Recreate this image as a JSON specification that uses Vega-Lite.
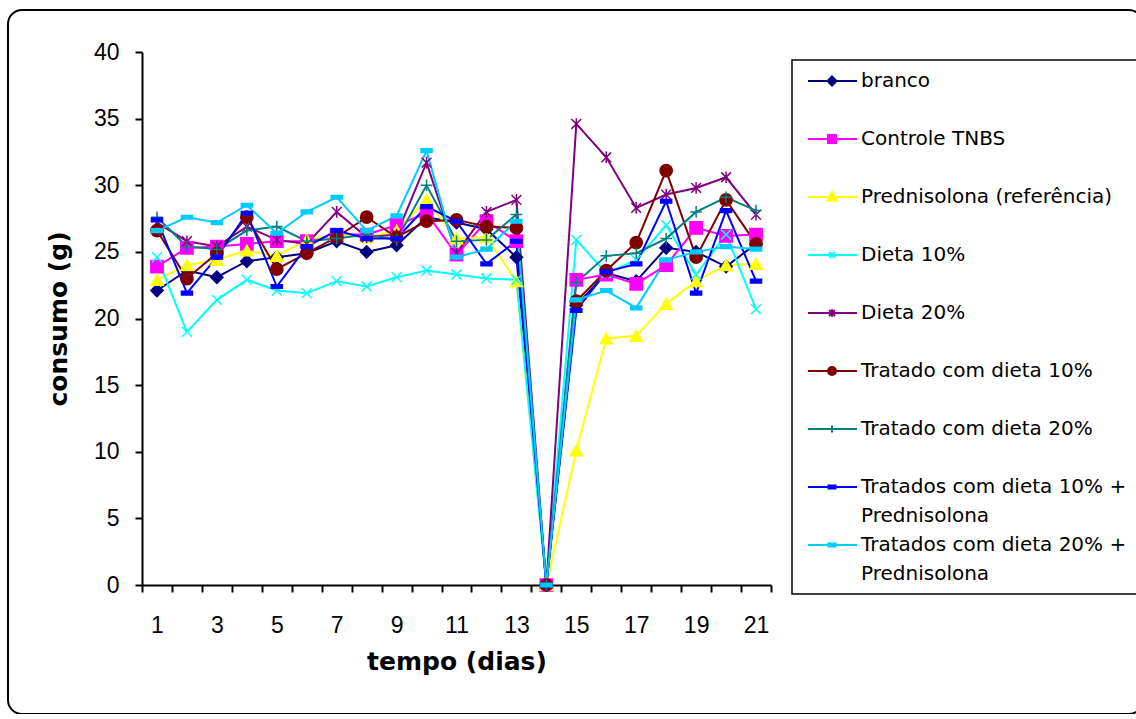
{
"$schema": "https://vega.github.io/schema/vega-lite/v6.json",
"width": 1135,
"height": 704,
"autosize": {"type": "none"},
"padding": {"left": 8, "top": 10, "right": 0, "bottom": 0},
"background": "white",
"config": {"view": {"stroke": "black", "strokeWidth": 2, "cornerRadius": 14, "fill": "white"}, "font": "Liberation Sans", "legend": {"strokeWidth": 1.5}},
"data": {"values": [
{"dia":1,"grupo":"branco","consumo":22.1},{"dia":2,"grupo":"branco","consumo":23.6},{"dia":3,"grupo":"branco","consumo":23.1},{"dia":4,"grupo":"branco","consumo":24.3},{"dia":5,"grupo":"branco","consumo":24.6},{"dia":6,"grupo":"branco","consumo":24.9},{"dia":7,"grupo":"branco","consumo":25.8},{"dia":8,"grupo":"branco","consumo":25.0},{"dia":9,"grupo":"branco","consumo":25.5},{"dia":10,"grupo":"branco","consumo":27.6},{"dia":11,"grupo":"branco","consumo":27.2},{"dia":12,"grupo":"branco","consumo":26.7},{"dia":13,"grupo":"branco","consumo":24.6},{"dia":14,"grupo":"branco","consumo":0},{"dia":15,"grupo":"branco","consumo":21.0},{"dia":16,"grupo":"branco","consumo":23.4},{"dia":17,"grupo":"branco","consumo":22.8},{"dia":18,"grupo":"branco","consumo":25.3},{"dia":19,"grupo":"branco","consumo":25.0},{"dia":20,"grupo":"branco","consumo":23.9},{"dia":21,"grupo":"branco","consumo":25.6},
{"dia":1,"grupo":"Controle TNBS","consumo":23.9},{"dia":2,"grupo":"Controle TNBS","consumo":25.3},{"dia":3,"grupo":"Controle TNBS","consumo":25.4},{"dia":4,"grupo":"Controle TNBS","consumo":25.6},{"dia":5,"grupo":"Controle TNBS","consumo":25.8},{"dia":6,"grupo":"Controle TNBS","consumo":25.8},{"dia":7,"grupo":"Controle TNBS","consumo":26.3},{"dia":8,"grupo":"Controle TNBS","consumo":26.3},{"dia":9,"grupo":"Controle TNBS","consumo":27.0},{"dia":10,"grupo":"Controle TNBS","consumo":27.9},{"dia":11,"grupo":"Controle TNBS","consumo":24.8},{"dia":12,"grupo":"Controle TNBS","consumo":27.3},{"dia":13,"grupo":"Controle TNBS","consumo":25.8},{"dia":14,"grupo":"Controle TNBS","consumo":0},{"dia":15,"grupo":"Controle TNBS","consumo":22.9},{"dia":16,"grupo":"Controle TNBS","consumo":23.3},{"dia":17,"grupo":"Controle TNBS","consumo":22.6},{"dia":18,"grupo":"Controle TNBS","consumo":24.0},{"dia":19,"grupo":"Controle TNBS","consumo":26.8},{"dia":20,"grupo":"Controle TNBS","consumo":26.2},{"dia":21,"grupo":"Controle TNBS","consumo":26.3},
{"dia":1,"grupo":"Prednisolona (referência)","consumo":22.9},{"dia":2,"grupo":"Prednisolona (referência)","consumo":24.0},{"dia":3,"grupo":"Prednisolona (referência)","consumo":24.4},{"dia":4,"grupo":"Prednisolona (referência)","consumo":25.1},{"dia":5,"grupo":"Prednisolona (referência)","consumo":24.7},{"dia":6,"grupo":"Prednisolona (referência)","consumo":25.9},{"dia":7,"grupo":"Prednisolona (referência)","consumo":26.3},{"dia":8,"grupo":"Prednisolona (referência)","consumo":26.1},{"dia":9,"grupo":"Prednisolona (referência)","consumo":26.6},{"dia":10,"grupo":"Prednisolona (referência)","consumo":28.9},{"dia":11,"grupo":"Prednisolona (referência)","consumo":26.0},{"dia":12,"grupo":"Prednisolona (referência)","consumo":26.1},{"dia":13,"grupo":"Prednisolona (referência)","consumo":22.8},{"dia":14,"grupo":"Prednisolona (referência)","consumo":0},{"dia":15,"grupo":"Prednisolona (referência)","consumo":10.1},{"dia":16,"grupo":"Prednisolona (referência)","consumo":18.5},{"dia":17,"grupo":"Prednisolona (referência)","consumo":18.7},{"dia":18,"grupo":"Prednisolona (referência)","consumo":21.1},{"dia":19,"grupo":"Prednisolona (referência)","consumo":22.8},{"dia":20,"grupo":"Prednisolona (referência)","consumo":24.0},{"dia":21,"grupo":"Prednisolona (referência)","consumo":24.1},
{"dia":1,"grupo":"Dieta 10%","consumo":24.6},{"dia":2,"grupo":"Dieta 10%","consumo":19.0},{"dia":3,"grupo":"Dieta 10%","consumo":21.4},{"dia":4,"grupo":"Dieta 10%","consumo":22.9},{"dia":5,"grupo":"Dieta 10%","consumo":22.1},{"dia":6,"grupo":"Dieta 10%","consumo":21.9},{"dia":7,"grupo":"Dieta 10%","consumo":22.8},{"dia":8,"grupo":"Dieta 10%","consumo":22.4},{"dia":9,"grupo":"Dieta 10%","consumo":23.1},{"dia":10,"grupo":"Dieta 10%","consumo":23.6},{"dia":11,"grupo":"Dieta 10%","consumo":23.3},{"dia":12,"grupo":"Dieta 10%","consumo":23.0},{"dia":13,"grupo":"Dieta 10%","consumo":22.9},{"dia":14,"grupo":"Dieta 10%","consumo":0},{"dia":15,"grupo":"Dieta 10%","consumo":25.9},{"dia":16,"grupo":"Dieta 10%","consumo":23.4},{"dia":17,"grupo":"Dieta 10%","consumo":24.4},{"dia":18,"grupo":"Dieta 10%","consumo":27.0},{"dia":19,"grupo":"Dieta 10%","consumo":23.3},{"dia":20,"grupo":"Dieta 10%","consumo":26.3},{"dia":21,"grupo":"Dieta 10%","consumo":20.7},
{"dia":1,"grupo":"Dieta 20%","consumo":27.2},{"dia":2,"grupo":"Dieta 20%","consumo":25.8},{"dia":3,"grupo":"Dieta 20%","consumo":25.4},{"dia":4,"grupo":"Dieta 20%","consumo":26.9},{"dia":5,"grupo":"Dieta 20%","consumo":25.9},{"dia":6,"grupo":"Dieta 20%","consumo":25.6},{"dia":7,"grupo":"Dieta 20%","consumo":28.0},{"dia":8,"grupo":"Dieta 20%","consumo":26.1},{"dia":9,"grupo":"Dieta 20%","consumo":26.3},{"dia":10,"grupo":"Dieta 20%","consumo":31.7},{"dia":11,"grupo":"Dieta 20%","consumo":24.9},{"dia":12,"grupo":"Dieta 20%","consumo":28.0},{"dia":13,"grupo":"Dieta 20%","consumo":28.9},{"dia":14,"grupo":"Dieta 20%","consumo":0},{"dia":15,"grupo":"Dieta 20%","consumo":34.6},{"dia":16,"grupo":"Dieta 20%","consumo":32.1},{"dia":17,"grupo":"Dieta 20%","consumo":28.3},{"dia":18,"grupo":"Dieta 20%","consumo":29.3},{"dia":19,"grupo":"Dieta 20%","consumo":29.8},{"dia":20,"grupo":"Dieta 20%","consumo":30.6},{"dia":21,"grupo":"Dieta 20%","consumo":27.8},
{"dia":1,"grupo":"Tratado com dieta 10%","consumo":26.6},{"dia":2,"grupo":"Tratado com dieta 10%","consumo":23.0},{"dia":3,"grupo":"Tratado com dieta 10%","consumo":24.9},{"dia":4,"grupo":"Tratado com dieta 10%","consumo":27.6},{"dia":5,"grupo":"Tratado com dieta 10%","consumo":23.7},{"dia":6,"grupo":"Tratado com dieta 10%","consumo":24.9},{"dia":7,"grupo":"Tratado com dieta 10%","consumo":26.1},{"dia":8,"grupo":"Tratado com dieta 10%","consumo":27.6},{"dia":9,"grupo":"Tratado com dieta 10%","consumo":26.1},{"dia":10,"grupo":"Tratado com dieta 10%","consumo":27.3},{"dia":11,"grupo":"Tratado com dieta 10%","consumo":27.4},{"dia":12,"grupo":"Tratado com dieta 10%","consumo":26.9},{"dia":13,"grupo":"Tratado com dieta 10%","consumo":26.8},{"dia":14,"grupo":"Tratado com dieta 10%","consumo":0},{"dia":15,"grupo":"Tratado com dieta 10%","consumo":21.3},{"dia":16,"grupo":"Tratado com dieta 10%","consumo":23.6},{"dia":17,"grupo":"Tratado com dieta 10%","consumo":25.7},{"dia":18,"grupo":"Tratado com dieta 10%","consumo":31.1},{"dia":19,"grupo":"Tratado com dieta 10%","consumo":24.6},{"dia":20,"grupo":"Tratado com dieta 10%","consumo":28.9},{"dia":21,"grupo":"Tratado com dieta 10%","consumo":25.6},
{"dia":1,"grupo":"Tratado com dieta 20%","consumo":27.6},{"dia":2,"grupo":"Tratado com dieta 20%","consumo":25.4},{"dia":3,"grupo":"Tratado com dieta 20%","consumo":25.2},{"dia":4,"grupo":"Tratado com dieta 20%","consumo":26.6},{"dia":5,"grupo":"Tratado com dieta 20%","consumo":26.9},{"dia":6,"grupo":"Tratado com dieta 20%","consumo":25.8},{"dia":7,"grupo":"Tratado com dieta 20%","consumo":26.0},{"dia":8,"grupo":"Tratado com dieta 20%","consumo":26.3},{"dia":9,"grupo":"Tratado com dieta 20%","consumo":25.9},{"dia":10,"grupo":"Tratado com dieta 20%","consumo":30.0},{"dia":11,"grupo":"Tratado com dieta 20%","consumo":25.8},{"dia":12,"grupo":"Tratado com dieta 20%","consumo":25.9},{"dia":13,"grupo":"Tratado com dieta 20%","consumo":27.8},{"dia":14,"grupo":"Tratado com dieta 20%","consumo":0},{"dia":15,"grupo":"Tratado com dieta 20%","consumo":22.7},{"dia":16,"grupo":"Tratado com dieta 20%","consumo":24.7},{"dia":17,"grupo":"Tratado com dieta 20%","consumo":24.9},{"dia":18,"grupo":"Tratado com dieta 20%","consumo":26.0},{"dia":19,"grupo":"Tratado com dieta 20%","consumo":28.0},{"dia":20,"grupo":"Tratado com dieta 20%","consumo":29.1},{"dia":21,"grupo":"Tratado com dieta 20%","consumo":28.1},
{"dia":1,"grupo":"Tratados com dieta 10% + Prednisolona","consumo":27.4},{"dia":2,"grupo":"Tratados com dieta 10% + Prednisolona","consumo":21.9},{"dia":3,"grupo":"Tratados com dieta 10% + Prednisolona","consumo":24.6},{"dia":4,"grupo":"Tratados com dieta 10% + Prednisolona","consumo":27.9},{"dia":5,"grupo":"Tratados com dieta 10% + Prednisolona","consumo":22.4},{"dia":6,"grupo":"Tratados com dieta 10% + Prednisolona","consumo":25.4},{"dia":7,"grupo":"Tratados com dieta 10% + Prednisolona","consumo":26.6},{"dia":8,"grupo":"Tratados com dieta 10% + Prednisolona","consumo":26.0},{"dia":9,"grupo":"Tratados com dieta 10% + Prednisolona","consumo":26.0},{"dia":10,"grupo":"Tratados com dieta 10% + Prednisolona","consumo":28.4},{"dia":11,"grupo":"Tratados com dieta 10% + Prednisolona","consumo":27.3},{"dia":12,"grupo":"Tratados com dieta 10% + Prednisolona","consumo":24.1},{"dia":13,"grupo":"Tratados com dieta 10% + Prednisolona","consumo":25.8},{"dia":14,"grupo":"Tratados com dieta 10% + Prednisolona","consumo":0},{"dia":15,"grupo":"Tratados com dieta 10% + Prednisolona","consumo":20.6},{"dia":16,"grupo":"Tratados com dieta 10% + Prednisolona","consumo":23.5},{"dia":17,"grupo":"Tratados com dieta 10% + Prednisolona","consumo":24.1},{"dia":18,"grupo":"Tratados com dieta 10% + Prednisolona","consumo":28.8},{"dia":19,"grupo":"Tratados com dieta 10% + Prednisolona","consumo":21.9},{"dia":20,"grupo":"Tratados com dieta 10% + Prednisolona","consumo":28.1},{"dia":21,"grupo":"Tratados com dieta 10% + Prednisolona","consumo":22.8},
{"dia":1,"grupo":"Tratados com dieta 20% + Prednisolona","consumo":26.6},{"dia":2,"grupo":"Tratados com dieta 20% + Prednisolona","consumo":27.6},{"dia":3,"grupo":"Tratados com dieta 20% + Prednisolona","consumo":27.2},{"dia":4,"grupo":"Tratados com dieta 20% + Prednisolona","consumo":28.5},{"dia":5,"grupo":"Tratados com dieta 20% + Prednisolona","consumo":26.4},{"dia":6,"grupo":"Tratados com dieta 20% + Prednisolona","consumo":28.0},{"dia":7,"grupo":"Tratados com dieta 20% + Prednisolona","consumo":29.1},{"dia":8,"grupo":"Tratados com dieta 20% + Prednisolona","consumo":26.6},{"dia":9,"grupo":"Tratados com dieta 20% + Prednisolona","consumo":27.7},{"dia":10,"grupo":"Tratados com dieta 20% + Prednisolona","consumo":32.6},{"dia":11,"grupo":"Tratados com dieta 20% + Prednisolona","consumo":24.6},{"dia":12,"grupo":"Tratados com dieta 20% + Prednisolona","consumo":25.2},{"dia":13,"grupo":"Tratados com dieta 20% + Prednisolona","consumo":27.3},{"dia":14,"grupo":"Tratados com dieta 20% + Prednisolona","consumo":0},{"dia":15,"grupo":"Tratados com dieta 20% + Prednisolona","consumo":21.4},{"dia":16,"grupo":"Tratados com dieta 20% + Prednisolona","consumo":22.1},{"dia":17,"grupo":"Tratados com dieta 20% + Prednisolona","consumo":20.8},{"dia":18,"grupo":"Tratados com dieta 20% + Prednisolona","consumo":24.4},{"dia":19,"grupo":"Tratados com dieta 20% + Prednisolona","consumo":25.0},{"dia":20,"grupo":"Tratados com dieta 20% + Prednisolona","consumo":25.4},{"dia":21,"grupo":"Tratados com dieta 20% + Prednisolona","consumo":25.2}
]},
"encoding": {
  "x": {"field": "dia", "type": "quantitative",
    "scale": {"domain": [0.5, 21.5], "range": [134, 763], "nice": false, "zero": false},
    "axis": {"values": [0.5,1.5,2.5,3.5,4.5,5.5,6.5,7.5,8.5,9.5,10.5,11.5,12.5,13.5,14.5,15.5,16.5,17.5,18.5,19.5,20.5,21.5],
      "labelExpr": "(datum.value - 0.5) % 2 == 0 && datum.value < 21 ? format(datum.value + 0.5, 'd') : ''",
      "labelOffset": 15, "labelFlush": false, "labelOverlap": false, "grid": false,
      "labelFont": "Liberation Sans", "labelFontSize": 23, "labelColor": "black", "labelPadding": 22,
      "tickSize": 7, "tickColor": "black", "tickWidth": 2, "domainColor": "black", "domainWidth": 2,
      "title": "tempo (dias)", "titleFont": "DejaVu Sans", "titleFontSize": 25, "titleFontWeight": "bold", "titleColor": "black", "titlePadding": 12,
      "offset": -129}},
  "y": {"field": "consumo", "type": "quantitative",
    "scale": {"domain": [0, 40], "range": [575, 42], "nice": false, "zero": true},
    "axis": {"values": [0,5,10,15,20,25,30,35,40], "grid": false, "labelFlush": false,
      "labelFont": "Liberation Sans", "labelFontSize": 23, "labelColor": "black", "labelPadding": 16,
      "tickSize": 7, "tickColor": "black", "tickWidth": 2, "domainColor": "black", "domainWidth": 2,
      "title": "consumo (g)", "titleFont": "DejaVu Sans", "titleFontSize": 25, "titleFontWeight": "bold", "titleColor": "black", "titlePadding": 22,
      "offset": -134}},
  "color": {"field": "grupo", "type": "nominal",
    "scale": {"domain": ["branco","Controle TNBS","Prednisolona (referência)","Dieta 10%","Dieta 20%","Tratado com dieta 10%","Tratado com dieta 20%","Tratados com dieta 10% + Prednisolona","Tratados com dieta 20% + Prednisolona"],
      "range": ["#000080","#FF00FF","#FFFF00","#00FFFF","#800080","#800000","#008080","#0000FF","#00CCFF"]},
    "legend": {"title": null, "orient": "none", "legendX": 784, "legendY": 50, "direction": "vertical",
      "strokeColor": "black", "fillColor": "white", "padding": 10,
      "symbolSize": 400, "symbolStrokeWidth": 2, "labelFont": "DejaVu Sans", "labelFontSize": 20, "labelColor": "black",
      "labelLimit": 0, "labelOffset": 37, "rowPadding": 8, "gridAlign": "all",
      "labelExpr": "datum.value == 'Tratados com dieta 10% + Prednisolona' ? ['Tratados com dieta 10% +', 'Prednisolona'] : datum.value == 'Tratados com dieta 20% + Prednisolona' ? ['Tratados com dieta 20% +', 'Prednisolona'] : datum.label",
      "encode": {
        "symbols": {"update": {
          "shape": {"signal": "datum.value == 'branco' ? 'M-0.5,0L4.4,0M1.9,-0.45L2.35,0L1.9,0.45L1.45,0Z' : datum.value == 'Controle TNBS' ? 'M-0.5,0L4.4,0M1.5,-0.4L2.3,-0.4L2.3,0.4L1.5,0.4Z' : datum.value == 'Prednisolona (referência)' ? 'M-0.5,0L4.4,0M1.9,-0.5L2.4,0.38L1.4,0.38Z' : datum.value == 'Dieta 10%' ? 'M-0.5,0L4.4,0M1.6,-0.3L2.2,0.3M1.6,0.3L2.2,-0.3' : datum.value == 'Dieta 20%' ? 'M-0.5,0L4.4,0M1.6,-0.3L2.2,0.3M1.6,0.3L2.2,-0.3M1.9,-0.38L1.9,0.38' : datum.value == 'Tratado com dieta 10%' ? 'M-0.5,0L4.4,0M1.5,0A0.4,0.4 0 1,0 2.3,0A0.4,0.4 0 1,0 1.5,0Z' : datum.value == 'Tratado com dieta 20%' ? 'M-0.5,0L4.4,0M1.9,-0.35L1.9,0.35' : 'M-0.5,0L4.4,0M1.55,-0.15L2.25,-0.15L2.25,0.15L1.55,0.15Z'"},
          "fill": {"scale": "color", "field": "value"},
          "stroke": {"scale": "color", "field": "value"},
          "strokeWidth": {"value": 2},
          "opacity": {"value": 1}}},
        "labels": {"update": {
          "lineHeight": {"value": 29}}}
      }}}
},
"layer": [
  {"mark": {"type": "line", "strokeWidth": 2}},
  {"mark": {"type": "point", "filled": true, "size": 150, "strokeWidth": 1.5, "opacity": 1},
   "encoding": {
     "shape": {"field": "grupo", "type": "nominal", "legend": null,
       "scale": {"domain": ["Tratados com dieta 20% + Prednisolona","Tratados com dieta 10% + Prednisolona","Tratado com dieta 20%","Tratado com dieta 10%","Dieta 20%","Dieta 10%","Prednisolona (referência)","Controle TNBS","branco"],
         "range": ["M-0.9,-0.3L0.9,-0.3L0.9,0.3L-0.9,0.3Z","M-0.9,-0.3L0.9,-0.3L0.9,0.3L-0.9,0.3Z","M0,-0.95L0,0.95M-0.95,0L0.95,0","circle","M-0.8,-0.8L0.8,0.8M-0.8,0.8L0.8,-0.8M0,-0.95L0,0.95","M-0.8,-0.8L0.8,0.8M-0.8,0.8L0.8,-0.8","triangle-up","square","diamond"]}},
     "stroke": {"field": "grupo", "type": "nominal", "legend": null,
       "scale": {"domain": ["Tratados com dieta 20% + Prednisolona","Tratados com dieta 10% + Prednisolona","Tratado com dieta 20%","Tratado com dieta 10%","Dieta 20%","Dieta 10%","Prednisolona (referência)","Controle TNBS","branco"],
         "range": ["#00CCFF","#0000FF","#008080","#800000","#800080","#00FFFF","#FFFF00","#FF00FF","#000080"]}}
   }}
]
}
